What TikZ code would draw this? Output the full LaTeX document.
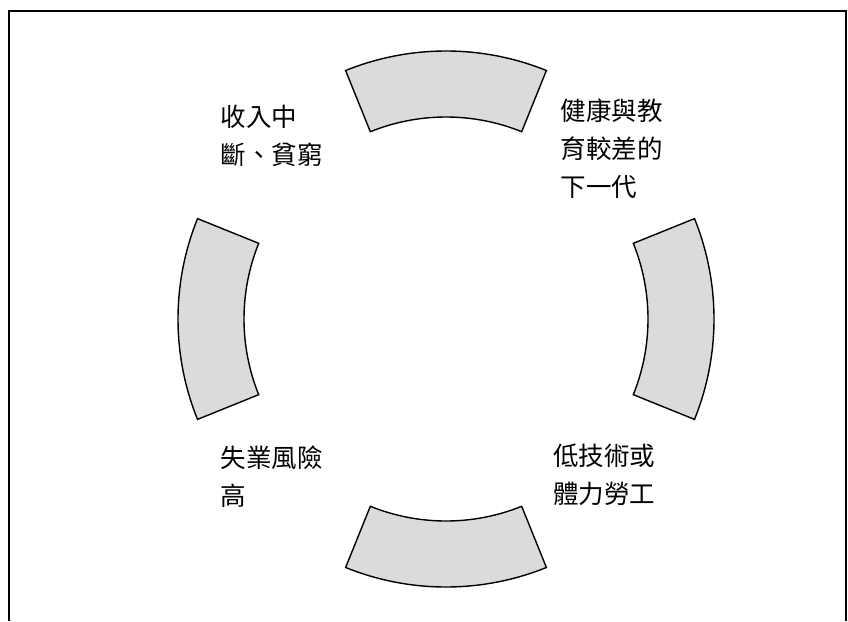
\documentclass[tikz,border=0pt]{standalone}
\usepackage{fontspec}
\newfontfamily\cjk{Noto Sans CJK TC}
\begin{document}
\begin{tikzpicture}[x=1pt,y=-1pt,
  seg/.style={draw=black,line width=1.4pt,fill=black!14,line join=miter},
  frame/.style={draw=black,line width=1.6pt},
  lbl/.style={anchor=north west,inner sep=0pt,align=left,
    font=\cjk\fontsize{25.5}{38}\selectfont}]
\useasboundingbox (0,0) rectangle (848,621);
\draw[frame] (9,621) -- (9,11) -- (846,11) -- (846,621);
\coordinate (c) at (446,319);
\foreach \m in {270,0,90,180}{
  \draw[seg] ([shift={(c)}]\m-22:268) arc[start angle=\m-22,end angle=\m+22,radius=268]
    -- ([shift={(c)}]\m+22:202) arc[start angle=\m+22,end angle=\m-22,radius=202] -- cycle;
}
\node[lbl] (tl) at (220.5,105) {收入中\\斷、貧窮};
\node[lbl] (tr) at (560.5,99) {健康與教\\育較差的\\下一代};
\node[lbl] (bl) at (220.5,446) {失業風險\\高};
\node[lbl] (br) at (553,444) {低技術或\\體力勞工};
\end{tikzpicture}
\end{document}
